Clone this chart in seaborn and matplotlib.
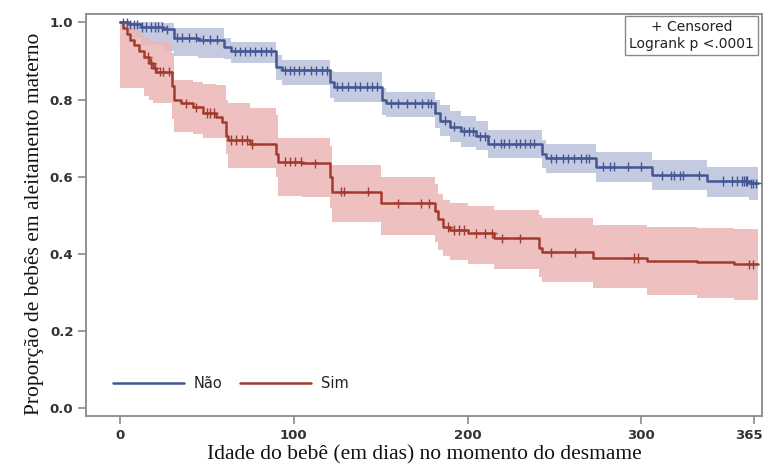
import numpy as np
import pandas as pd
import matplotlib
matplotlib.use("Agg")
import matplotlib.pyplot as plt
import matplotlib.transforms as mtransforms
import seaborn as sns

# ---------------- data ----------------
groups = ["Não", "Sim"]

nao_t = [0, 5, 12, 25, 31, 45, 60, 64, 90, 93, 121, 123, 151, 153, 181, 184, 190, 196, 205, 212, 243, 245, 274, 306, 338, 362, 367]
nao_s = [1.000, 0.995, 0.988, 0.982, 0.960, 0.955, 0.935, 0.925, 0.885, 0.876, 0.845, 0.833, 0.800, 0.790, 0.765, 0.745,
         0.730, 0.718, 0.705, 0.686, 0.660, 0.648, 0.626, 0.604, 0.589, 0.583, 0.583]
nao_lo = [1.000, 0.960, 0.940, 0.925, 0.912, 0.908, 0.905, 0.895, 0.850, 0.838, 0.805, 0.794, 0.760, 0.755, 0.725, 0.705,
          0.690, 0.678, 0.668, 0.648, 0.622, 0.610, 0.586, 0.566, 0.548, 0.540, 0.540]
nao_hi = [1.000, 1.000, 1.000, 0.998, 0.985, 0.985, 0.960, 0.950, 0.915, 0.902, 0.875, 0.870, 0.830, 0.820, 0.800, 0.785,
          0.770, 0.758, 0.745, 0.721, 0.696, 0.686, 0.665, 0.643, 0.626, 0.624, 0.624]
nao_cens = [2, 4, 6, 8, 10, 13, 15, 18, 20, 22, 24, 27, 33, 36, 40, 44, 48, 52, 56, 66, 69, 72, 75, 78, 81, 84, 87,
            95, 98, 100, 103, 106, 110, 113, 116, 119, 125, 128, 131, 135, 138, 142, 145, 148, 156, 160, 165, 170,
            174, 177, 179, 187, 192, 198, 201, 203, 207, 210, 215, 219, 221, 224, 228, 230, 233, 236, 238,
            248, 251, 255, 258, 261, 265, 268, 270, 278, 282, 284, 292, 300, 312, 317, 319, 322, 324, 333,
            347, 352, 355, 358, 359, 360, 361, 363, 364, 366]

sim_t = [0, 2, 4, 6, 8, 11, 14, 17, 19, 21, 30, 31, 35, 42, 48, 55, 59, 61, 62, 75, 90, 91, 105, 121, 122, 150,
         181, 183, 186, 190, 200, 215, 241, 243, 272, 303, 332, 353, 367]
sim_s = [1.000, 0.985, 0.970, 0.955, 0.940, 0.925, 0.910, 0.895, 0.882, 0.872, 0.835, 0.800, 0.790, 0.780, 0.765,
         0.755, 0.742, 0.705, 0.695, 0.685, 0.660, 0.639, 0.635, 0.600, 0.561, 0.531, 0.510, 0.490, 0.470, 0.462,
         0.453, 0.440, 0.415, 0.404, 0.389, 0.382, 0.378, 0.373, 0.373]
sim_lo = [0.830, 0.830, 0.830, 0.830, 0.830, 0.830, 0.810, 0.800, 0.790, 0.790, 0.750, 0.717, 0.717, 0.710, 0.700,
          0.700, 0.700, 0.660, 0.622, 0.622, 0.600, 0.550, 0.548, 0.520, 0.483, 0.449, 0.430, 0.410, 0.395, 0.384,
          0.375, 0.360, 0.340, 0.328, 0.311, 0.293, 0.285, 0.280, 0.280]
sim_hi = [1.000, 1.000, 1.000, 0.990, 0.980, 0.970, 0.960, 0.950, 0.950, 0.950, 0.920, 0.850, 0.850, 0.845, 0.840,
          0.837, 0.837, 0.800, 0.790, 0.778, 0.760, 0.700, 0.700, 0.680, 0.630, 0.600, 0.580, 0.555, 0.540, 0.532,
          0.525, 0.514, 0.500, 0.493, 0.475, 0.470, 0.467, 0.465, 0.465]
sim_cens = [16, 18, 20, 23, 25, 28, 38, 44, 50, 52, 54, 64, 67, 70, 73, 76, 95, 98, 101, 104, 112, 127, 129,
            143, 160, 173, 178, 189, 192, 195, 198, 205, 210, 214, 220, 230, 248, 262, 296, 298, 362, 364]

x_ticks = [0, 100, 200, 300, 365]
y_ticks = [0.0, 0.2, 0.4, 0.6, 0.8, 1.0]

colors = {"Não": "#445694", "Sim": "#A23A2E"}
band_colors = {"Não": "#BAC2DC", "Sim": "#EBB5B5"}

# ---------------- tables ----------------
curves = pd.concat([
    pd.DataFrame({"dia": nao_t, "surv": nao_s, "lo": nao_lo, "hi": nao_hi, "grupo": "Não"}),
    pd.DataFrame({"dia": sim_t, "surv": sim_s, "lo": sim_lo, "hi": sim_hi, "grupo": "Sim"}),
], ignore_index=True)


def step_val(times, vals, q):
    idx = np.searchsorted(np.asarray(times), np.asarray(q), side="right") - 1
    return np.asarray(vals)[idx]


cens = pd.concat([
    pd.DataFrame({"dia": nao_cens, "surv": step_val(nao_t, nao_s, nao_cens), "grupo": "Não"}),
    pd.DataFrame({"dia": sim_cens, "surv": step_val(sim_t, sim_s, sim_cens), "grupo": "Sim"}),
], ignore_index=True)

# ---------------- plot ----------------
sns.set_style("white")
plt.rcParams["font.family"] = ["DejaVu Sans"]

fig = plt.figure(figsize=(7.65, 4.72), dpi=100)
ax = fig.add_axes([0.1124, 0.1186, 0.884, 0.8517])

for g in groups:
    d = curves[curves.grupo == g]
    ax.fill_between(d["dia"], d["lo"], d["hi"], step="post", color=band_colors[g], lw=0, alpha=0.85, zorder=1)

sns.lineplot(data=curves, x="dia", y="surv", hue="grupo", palette=colors, hue_order=groups,
             drawstyle="steps-post", estimator=None, sort=False, lw=1.8, ax=ax, zorder=3)

sns.scatterplot(data=cens, x="dia", y="surv", hue="grupo", palette=colors, hue_order=groups,
                marker="+", s=45, linewidth=1.0, ax=ax, legend=False, zorder=4)

handles, labels = ax.get_legend_handles_labels()
ax.legend(handles[:2], labels[:2], loc="lower left", bbox_to_anchor=(0.02, 0.03), ncol=2,
          frameon=False, fontsize=10.5, handlelength=4.9, handletextpad=0.65, columnspacing=1.2,
          labelcolor="#222222")

ax.set_xlim(-19.5, 369.5)
ax.set_ylim(-0.02, 1.0215)
ax.set_xticks(x_ticks)
ax.set_yticks(y_ticks)
ax.set_yticklabels([f"{v:.1f}" for v in y_ticks])
ax.tick_params(axis="both", which="major", length=6, width=1.2, color="#8a8a8a",
               labelsize=9.5, labelcolor="#333333", bottom=True, left=True, pad=3)
for lab in ax.get_xticklabels() + ax.get_yticklabels():
    lab.set_fontweight("semibold")
# keep the last x tick label inside the figure
last = ax.get_xticklabels()[-1]
last.set_transform(last.get_transform() + mtransforms.ScaledTranslation(-6 / 100, 0, fig.dpi_scale_trans))
for sp in ax.spines.values():
    sp.set_visible(True)
    sp.set_color("#8a8a8a")
    sp.set_linewidth(1.3)

ax.set_xlabel("Idade do bebê (em dias) no momento do desmame", family=["Liberation Serif"],
              fontsize=15.5, color="#111111", labelpad=3)
ax.set_ylabel("Proporção de bebês em aleitamento materno", family=["Liberation Serif"],
              fontsize=15.5, color="#111111")
ax.yaxis.set_label_coords(-0.062, 0.478)

ax.text(0.988, 0.985, "+ Censored\nLogrank p <.0001", transform=ax.transAxes, ha="right", va="top",
        multialignment="center", fontsize=10, linespacing=1.25, color="#222222", zorder=6,
        bbox=dict(boxstyle="square,pad=0.28", facecolor="white", edgecolor="#8a8a8a", linewidth=1.0))

fig.savefig("out.png", dpi=100)
